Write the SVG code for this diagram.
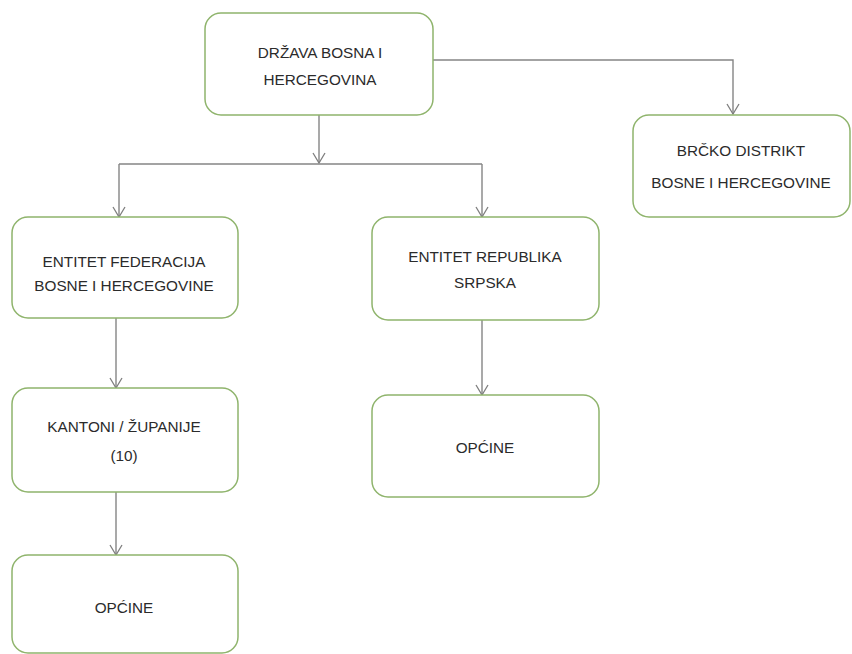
<svg xmlns="http://www.w3.org/2000/svg" width="852" height="654" viewBox="0 0 852 654">
<defs>
<marker id="arr" viewBox="0 0 14 14" refX="12" refY="7" markerWidth="14" markerHeight="14" markerUnits="userSpaceOnUse" orient="auto">
<path d="M2,1 L12,7 L2,13" fill="none" stroke="#7f7f7f" stroke-width="1.3"/>
</marker>
<style>
.box{fill:#ffffff;stroke:#8fb46c;stroke-width:1.5}
.t{font-family:"Liberation Sans",Arial,sans-serif;font-size:15.3px;fill:#2b2b2b;text-anchor:middle}
.c{fill:none;stroke:#858585;stroke-width:1.4}
</style>
</defs>
<rect width="852" height="654" fill="#ffffff"/>
<g id="connectors">
<path class="c" d="M319,115 V163" marker-end="url(#arr)"/>
<path class="c" d="M119,164 H482"/>
<path class="c" d="M119,164 V217" marker-end="url(#arr)"/>
<path class="c" d="M482,164 V217" marker-end="url(#arr)"/>
<path class="c" d="M433,60 H733 V114" marker-end="url(#arr)"/>
<path class="c" d="M116,318 V388" marker-end="url(#arr)"/>
<path class="c" d="M116,492 V555" marker-end="url(#arr)"/>
<path class="c" d="M482,320 V395" marker-end="url(#arr)"/>
</g>
<g id="drzava">
<rect class="box" x="205" y="13" width="228" height="102" rx="16"/>
<text class="t" x="320" y="58">DRŽAVA BOSNA I</text>
<text class="t" x="320" y="85">HERCEGOVINA</text>
</g>
<g id="brcko">
<rect class="box" x="633" y="115" width="217" height="102" rx="16"/>
<text class="t" x="741" y="156">BRČKO DISTRIKT</text>
<text class="t" x="741" y="188">BOSNE I HERCEGOVINE</text>
</g>
<g id="federacija">
<rect class="box" x="12" y="217" width="226" height="101" rx="16"/>
<text class="t" x="124" y="267">ENTITET FEDERACIJA</text>
<text class="t" x="124" y="291">BOSNE I HERCEGOVINE</text>
</g>
<g id="rs">
<rect class="box" x="372" y="217" width="227" height="103" rx="16"/>
<text class="t" x="485" y="262">ENTITET REPUBLIKA</text>
<text class="t" x="485" y="288">SRPSKA</text>
</g>
<g id="kantoni">
<rect class="box" x="12" y="388" width="226" height="104" rx="16"/>
<text class="t" x="124" y="432">KANTONI / ŽUPANIJE</text>
<text class="t" x="124" y="461">(10)</text>
</g>
<g id="opcine-rs">
<rect class="box" x="372" y="395" width="227" height="102" rx="16"/>
<text class="t" x="485" y="453">OPĆINE</text>
</g>
<g id="opcine-fbih">
<rect class="box" x="12" y="555" width="226" height="98" rx="16"/>
<text class="t" x="124" y="613">OPĆINE</text>
</g>
</svg>
